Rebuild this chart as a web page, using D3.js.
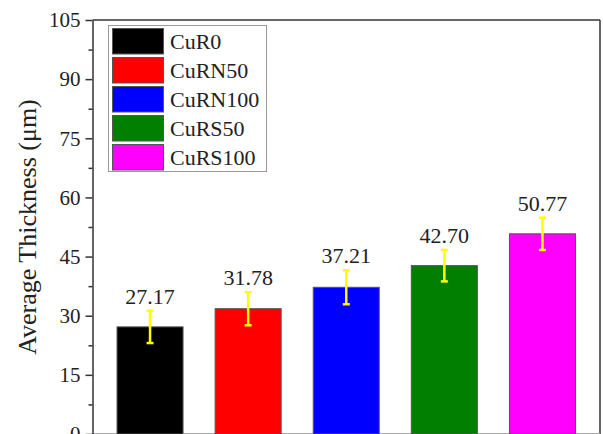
<!DOCTYPE html>
<html><head><meta charset="utf-8">
<script src="https://cdn.jsdelivr.net/npm/d3@7"></script>
<style>body{margin:0;background:#fff}svg{display:block}</style>
</head><body>
<script>
const categories = ["CuR0","CuRN50","CuRN100","CuRS50","CuRS100"];
const values = [27.17, 31.78, 37.21, 42.70, 50.77];
const errors = [4.1, 4.2, 4.3, 4.0, 4.1];
const colors = ["#000000","#ff0000","#0000ff","#007f00","#ff00ff"];
const yTicks = [0,15,30,45,60,75,90,105];
const yMinorTicks = [7.5,22.5,37.5,52.5,67.5,82.5,97.5];

const W = 603, H = 434;
const L = 92.5, R = 600, T = 20, B = 434;
const svg = d3.select("body").append("svg").attr("width", W).attr("height", H);
const font = "'Liberation Serif','Times New Roman',serif";

const x = d3.scaleBand().domain(categories).range([L, R]).paddingInner(0.327).paddingOuter(0.25);
const y = d3.scaleLinear().domain([0, 105]).range([B, T]);

// frame
svg.append("line").attr("x1", L).attr("x2", R).attr("y1", T).attr("y2", T).attr("stroke", "#333").attr("stroke-width", 1.5);
svg.append("line").attr("x1", R).attr("x2", R).attr("y1", T).attr("y2", B).attr("stroke", "#333").attr("stroke-width", 1.5);
svg.append("line").attr("x1", L).attr("x2", R).attr("y1", B - 0.5).attr("y2", B - 0.5).attr("stroke", "#aaa").attr("stroke-width", 1);

// bars
svg.selectAll("rect.bar").data(categories).enter().append("rect")
  .attr("x", d => x(d)).attr("width", x.bandwidth())
  .attr("y", (d, i) => y(values[i])).attr("height", (d, i) => y(0) - y(values[i]))
  .attr("fill", (d, i) => colors[i]).attr("stroke", "#555").attr("stroke-width", 1);

// error bars
const eg = svg.selectAll("g.err").data(categories).enter().append("g")
  .attr("stroke", "#ffff00").attr("stroke-width", 2.5);
eg.append("line").attr("x1", d => x(d) + x.bandwidth() / 2).attr("x2", d => x(d) + x.bandwidth() / 2)
  .attr("y1", (d, i) => y(values[i] + errors[i])).attr("y2", (d, i) => y(values[i] - errors[i]));
eg.append("line").attr("x1", d => x(d) + x.bandwidth() / 2 - 3.5).attr("x2", d => x(d) + x.bandwidth() / 2 + 3.5)
  .attr("y1", (d, i) => y(values[i] + errors[i])).attr("y2", (d, i) => y(values[i] + errors[i]));
eg.append("line").attr("x1", d => x(d) + x.bandwidth() / 2 - 3.5).attr("x2", d => x(d) + x.bandwidth() / 2 + 3.5)
  .attr("y1", (d, i) => y(values[i] - errors[i])).attr("y2", (d, i) => y(values[i] - errors[i]));

// value labels
svg.selectAll("text.val").data(categories).enter().append("text")
  .attr("x", d => x(d) + x.bandwidth() / 2)
  .attr("y", (d, i) => y(values[i] + errors[i]) - 7)
  .attr("text-anchor", "middle").attr("font-family", font).attr("font-size", 22).attr("fill", "#222")
  .text((d, i) => values[i].toFixed(2));

// y axis
const yAxis = d3.axisLeft(y).tickValues(yTicks).tickSize(7).tickPadding(5).tickSizeOuter(0);
const ga = svg.append("g").attr("transform", `translate(${L},0)`).call(yAxis);
ga.select(".domain").attr("stroke", "#333").attr("stroke-width", 1.5);
ga.selectAll(".tick line").attr("stroke", "#333").attr("stroke-width", 1.5);
ga.selectAll("text").attr("font-family", font).attr("font-size", 21).attr("fill", "#222");
const gm = svg.append("g").attr("transform", `translate(${L},0)`)
  .call(d3.axisLeft(y).tickValues(yMinorTicks).tickSize(4).tickFormat(""));
gm.select(".domain").remove();
gm.selectAll(".tick line").attr("stroke", "#333").attr("stroke-width", 1.5);

svg.append("text").attr("transform", `translate(36,${(T + B) / 2}) rotate(-90)`)
  .attr("text-anchor", "middle").attr("font-family", font).attr("font-size", 26).attr("fill", "#222")
  .text("Average Thickness (μm)");

// legend
const lg = svg.append("g");
lg.append("rect").attr("x", 108.5).attr("y", 25.5).attr("width", 158).attr("height", 146)
  .attr("fill", "#fff").attr("stroke", "#999").attr("stroke-width", 1);
const li = lg.selectAll("g.li").data(categories).enter().append("g")
  .attr("transform", (d, i) => `translate(112.5,${28.5 + i * 29})`);
li.append("rect").attr("width", 51).attr("height", 25.5).attr("fill", (d, i) => colors[i])
  .attr("stroke", "#555").attr("stroke-width", 1);
li.append("text").attr("x", 57.5).attr("y", 20.5).attr("font-family", font).attr("font-size", 22).attr("fill", "#222")
  .text(d => d);
</script>
</body></html>
